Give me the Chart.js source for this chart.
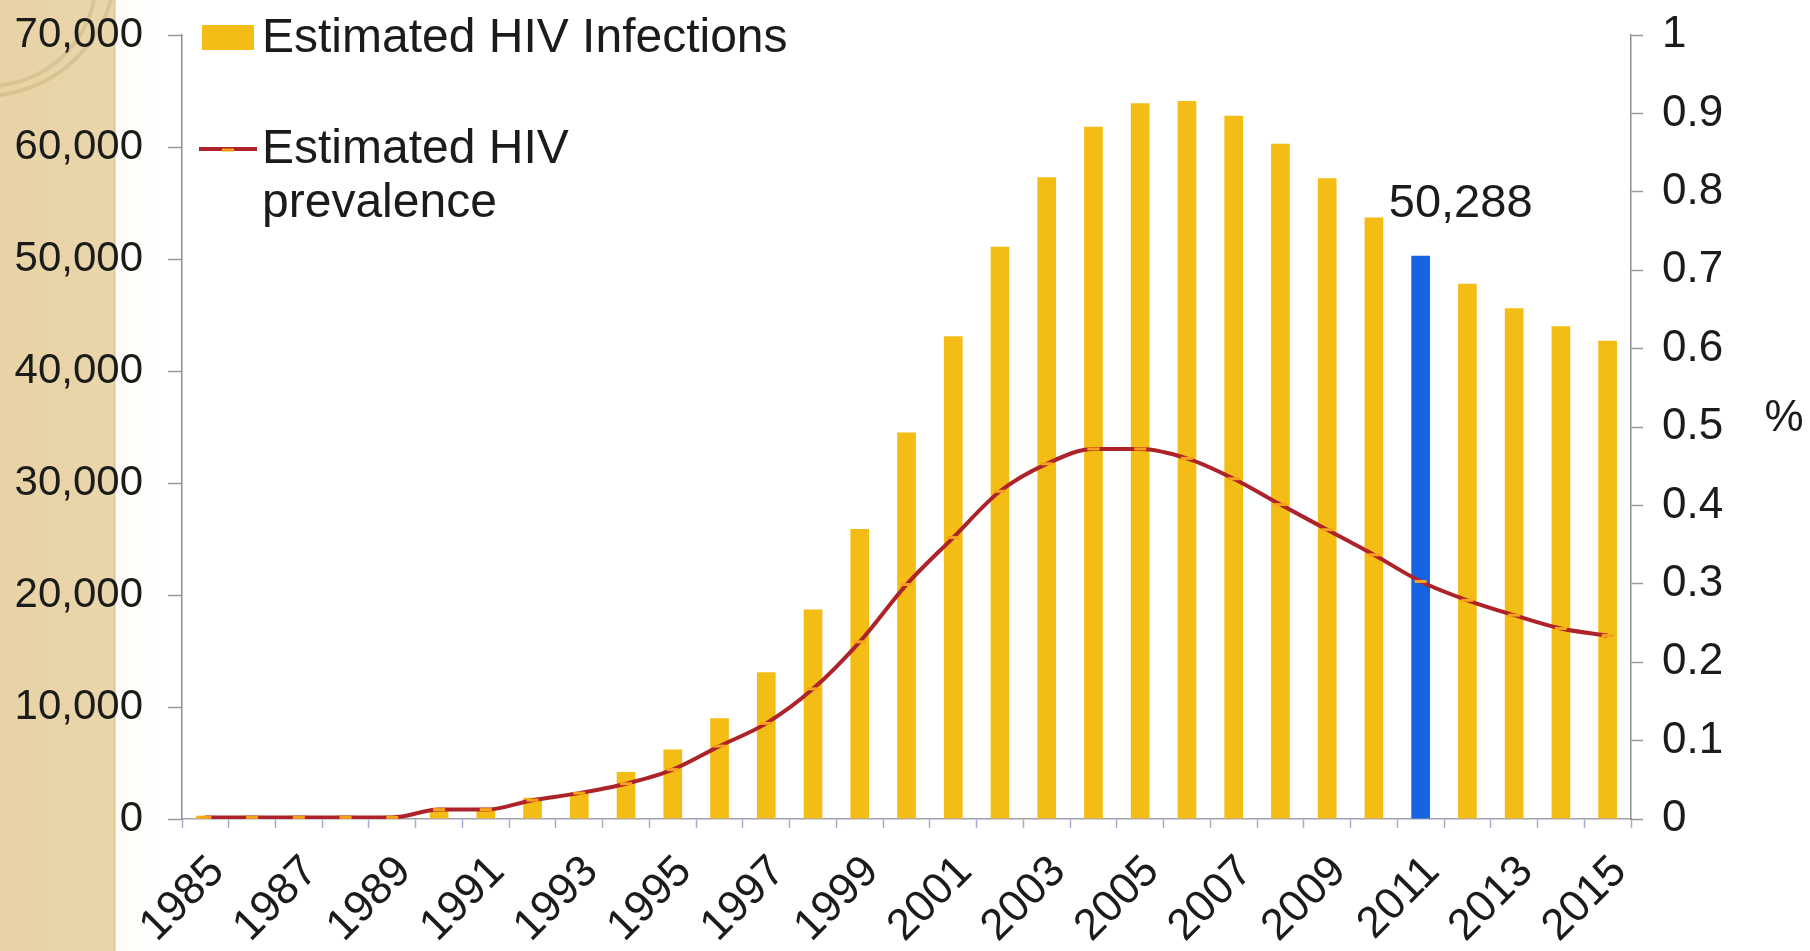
<!DOCTYPE html>
<html lang="en">
<head>
    <meta charset="UTF-8">
    <title>Estimated HIV Infections and Prevalence</title>
    <script src="https://cdn.jsdelivr.net/npm/chart.js"></script>
    <style>
        html, body { margin: 0; padding: 0; }
        body {
            width: 1810px; height: 951px; overflow: hidden;
            background: linear-gradient(to right, #e7d3a5 0, #e9d6aa 113px, #d9c595 115px, #fdfcf6 116px, #ffffff 160px);
            font-family: "Liberation Sans", Arial, sans-serif;
        }
        .ring { position: absolute; border-radius: 50%; border: 4px solid rgba(190, 165, 115, 0.35); }
        .chart-box { position: absolute; left: 0; top: 0; width: 1810px; height: 951px; }
    </style>
</head>
<body>
    <div class="ring" style="left:-150px; top:-170px; width:260px; height:260px;"></div>
    <div class="ring" style="left:-120px; top:-130px; width:210px; height:210px;"></div>
    <div class="chart-box"><canvas id="hivChart"></canvas></div>

    <script>
        // Data
        const years = ['1985', '1986', '1987', '1988', '1989', '1990', '1991', '1992', '1993', '1994',
                       '1995', '1996', '1997', '1998', '1999', '2000', '2001', '2002', '2003', '2004',
                       '2005', '2006', '2007', '2008', '2009', '2010', '2011', '2012', '2013', '2014', '2015'];
        const infections = [300, 300, 300, 300, 300, 1000, 1000, 1900, 2400, 4200,
                            6200, 9000, 13100, 18700, 25900, 34500, 43100, 51100, 57300, 61800,
                            63900, 64100, 62800, 60300, 57200, 53700, 50288, 47800, 45600, 44000, 42700];
        const prevalence = [0.002, 0.002, 0.002, 0.002, 0.002, 0.012, 0.012, 0.024, 0.033, 0.045,
                            0.063, 0.093, 0.122, 0.166, 0.226, 0.299, 0.359, 0.418, 0.453, 0.472,
                            0.472, 0.46, 0.434, 0.401, 0.369, 0.337, 0.303, 0.279, 0.26, 0.243, 0.234];
        const seriesNames = ['Estimated HIV Infections', 'Estimated HIV prevalence'];
        const highlightYear = '2011';
        const highlightText = '50,288';

        const FONT = '"Liberation Sans", Arial, sans-serif';
        const GOLD = '#f4bd16';
        const BLUE = '#1562e3';
        const RED = '#ad2329';
        const ORANGE = '#f7a21b';

        const barColors = years.map(y => y === highlightYear ? BLUE : GOLD);

        // keep the plot area where the picture has it: no extra room for half labels
        function noLabelPadding(scale) {
            scale.paddingTop = 0;
            scale.paddingBottom = 0;
        }

        // legend drawn inside the plot area, top left
        const insideLegend = {
            id: 'insideLegend',
            afterDraw(chart) {
                const c = chart.ctx, a = chart.chartArea;
                const x0 = a.left + 20;
                c.save();
                c.fillStyle = GOLD;
                c.fillRect(x0, 25, 52, 25);
                c.strokeStyle = RED;
                c.lineWidth = 4;
                c.beginPath(); c.moveTo(x0 - 3, 149); c.lineTo(x0 + 55, 149); c.stroke();
                c.strokeStyle = ORANGE;
                c.lineWidth = 3;
                c.beginPath(); c.moveTo(x0 + 20, 150); c.lineTo(x0 + 32, 150); c.stroke();
                c.fillStyle = '#1b1b1b';
                c.font = '48px ' + FONT;
                c.textBaseline = 'middle';
                c.fillText(chart.data.datasets[0].label, x0 + 60, 39);
                c.fillText('Estimated HIV', x0 + 60, 150);
                c.fillText('prevalence', x0 + 60, 204);
                c.restore();
            }
        };

        // value label over the highlighted bar and the upright "%" unit
        const extraText = {
            id: 'extraText',
            afterDatasetsDraw(chart) {
                const c = chart.ctx;
                const idx = years.indexOf(highlightYear);
                const bar = chart.getDatasetMeta(0).data[idx];
                c.save();
                c.fillStyle = '#1b1b1b';
                c.font = '47px ' + FONT;
                c.textAlign = 'center';
                c.textBaseline = 'alphabetic';
                c.fillText(highlightText, bar.x + 40, bar.y - 39);
                c.font = '44px ' + FONT;
                c.fillText('%', chart.width - 26, chart.scales.y1.getPixelForValue(0.495));
                c.restore();
            }
        };

        const ctx = document.getElementById('hivChart').getContext('2d');
        const hivChart = new Chart(ctx, {
            data: {
                labels: years,
                datasets: [{
                    type: 'bar',
                    label: seriesNames[0],
                    data: infections,
                    backgroundColor: barColors,
                    barPercentage: 0.4,
                    categoryPercentage: 1,
                    yAxisID: 'y',
                    order: 2
                }, {
                    type: 'line',
                    label: seriesNames[1],
                    data: prevalence,
                    borderColor: RED,
                    borderWidth: 4,
                    cubicInterpolationMode: 'monotone',
                    pointStyle: 'line',
                    pointRadius: 6,
                    pointBorderWidth: 3,
                    pointBorderColor: ORANGE,
                    pointBackgroundColor: ORANGE,
                    yAxisID: 'y1',
                    order: 1
                }]
            },
            options: {
                responsive: true,
                maintainAspectRatio: false,
                animation: false,
                layout: { padding: { top: 35, left: 0, right: 0, bottom: 0 } },
                plugins: {
                    legend: { display: false },
                    tooltip: { enabled: false }
                },
                scales: {
                    x: {
                        afterFit(scale) { scale.height = 132; },
                        grid: { drawOnChartArea: false, tickLength: 9, tickColor: '#a9a9cf', tickWidth: 1.5 },
                        border: { color: '#a0a0b4', width: 1.5 },
                        ticks: {
                            autoSkip: false,
                            minRotation: 45,
                            maxRotation: 45,
                            padding: 18,
                            labelOffset: 12,
                            color: '#1b1b1b',
                            font: { family: FONT, size: 44 },
                            callback(v, i) { return i % 2 === 0 ? years[i] : ''; }
                        }
                    },
                    y: {
                        position: 'left',
                        min: 0, max: 70000,
                        afterFit(scale) { scale.width = 182; noLabelPadding(scale); },
                        grid: { drawOnChartArea: false, tickLength: 14, tickColor: '#9a9a9a', tickWidth: 1.5 },
                        border: { color: '#8e8e8e', width: 1.5 },
                        ticks: {
                            stepSize: 10000,
                            padding: 25,
                            color: '#1b1b1b',
                            font: { family: FONT, size: 42 },
                            callback(v) { return v.toLocaleString('en-US'); }
                        }
                    },
                    y1: {
                        position: 'right',
                        min: 0, max: 1,
                        afterFit(scale) { scale.width = 179; noLabelPadding(scale); },
                        grid: { drawOnChartArea: false, tickLength: 12, tickColor: '#9a9a9a', tickWidth: 1.5 },
                        border: { color: '#8e8e8e', width: 1.5 },
                        ticks: {
                            stepSize: 0.1,
                            padding: 19,
                            color: '#1b1b1b',
                            font: { family: FONT, size: 44 },
                            callback(v) { return String(Math.round(v * 10) / 10); }
                        }
                    }
                }
            },
            plugins: [insideLegend, extraText]
        });
    </script>
</body>
</html>
